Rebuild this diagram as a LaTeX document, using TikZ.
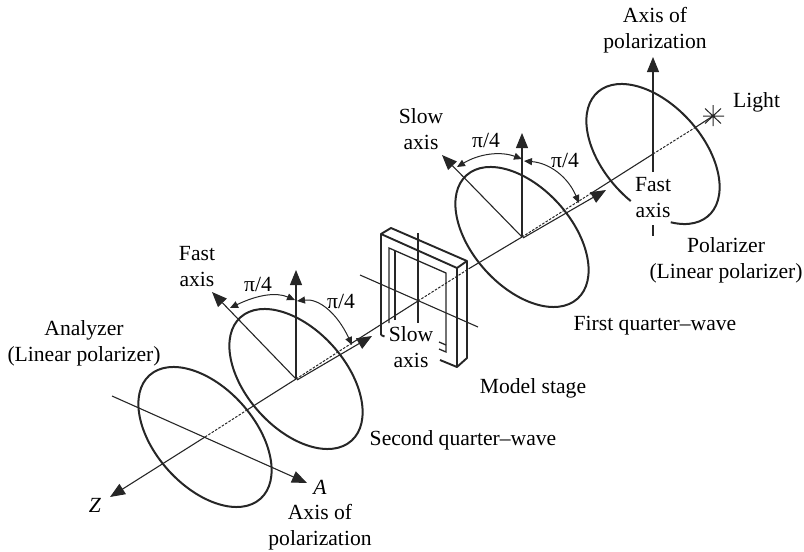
\documentclass[tikz,border=0pt]{standalone}
\usepackage{fontspec}
\setmainfont{Liberation Serif}
\usetikzlibrary{arrows.meta}
\tikzset{
  lab/.style={inner sep=0pt,align=center,anchor=base,font=\fontsize{21.6}{26}\selectfont},
  disc/.style={line width=2pt,draw=black!85},
  axisline/.style={line width=1.1pt,draw=black!85},
  dotline/.style={line width=1pt,draw=black!85,dash pattern=on 2.5pt off 1.5pt},
  bigarrow/.style={axisline,-{Triangle[length=15pt,width=12pt]}},
  angarc/.style={line width=1pt,draw=black!85,{Triangle[length=8pt,width=7pt]}-{Triangle[length=8pt,width=7pt]}},
  stagethick/.style={line width=1.9pt,draw=black!85,line join=round},
  stagethin/.style={line width=1.3pt,draw=black!85},
}
\begin{document}
\begin{tikzpicture}[x=1pt,y=-1pt]
\useasboundingbox (0,0) rectangle (804,552);
\coordinate (Ca) at (205,437);
\coordinate (Cs) at (296,379);
\coordinate (Cm) at (418,301);
\coordinate (Cf) at (522,237);
\coordinate (Cp) at (653,154);
\coordinate (Star) at (713,116);
\coordinate (Ztip) at (110,497);
% discs
\draw[disc,rotate around={-48:(Ca)}] (Ca) ellipse[x radius=83pt,y radius=49.5pt];
\draw[disc,rotate around={-48:(Cs)}] (Cs) ellipse[x radius=83pt,y radius=49.5pt];
\draw[disc,rotate around={-48:(Cf)}] (Cf) ellipse[x radius=83pt,y radius=49.5pt];
\draw[disc,shift={(Cp)},rotate=-48] (-41:83pt and 49.5pt) arc[start angle=-41,delta angle=325,x radius=83pt,y radius=49.5pt];
% stage
\draw[stagethick] (381,335) -- (381,234) -- (457,268) -- (467,261) -- (391,228) -- (381,234);
\draw[stagethick] (381,335) -- (384.5,336.5);
\draw[stagethick] (457,268) -- (457,367) -- (467,358) -- (467,261);
\draw[stagethick] (440,360) -- (457,367);
\draw[stagethin] (389,323) -- (389,248) -- (446,273) -- (446,352) -- (439,349);
\draw[stagethin] (395,320) -- (395,251);
\draw[stagethin] (439,342) -- (446,345);
\draw[axisline] (418,233) -- (418,323);
\draw[axisline] (360,275) -- (478,327);
% z axis
\draw[bigarrow] (Ca) -- (Ztip);
\draw[dotline] (Ca) -- (247,410);
\draw[axisline] (247,410) -- (Cs);
\draw[dotline] (Cs) -- (352,343);
\draw[axisline] (352,343) -- (Cm);
\draw[dotline] (Cm) -- (470,268);
\draw[axisline] (470,268) -- (Cf);
\draw[dotline] (Cf) -- (590,194);
\draw[axisline] (590,194) -- (Cp);
\draw[dotline] (Cp) -- (696,127);
\draw[axisline] (696,127) -- (Star);
% double arrows along axis
\draw[bigarrow] (297,380) -- (372,336);
\draw[bigarrow] (523,238) -- (606,190);
% vertical and fast arrows
\draw[bigarrow] (Cs) -- (296,270);
\draw[bigarrow] (Cs) -- (212,292);
\draw[bigarrow] (Cf) -- (522,133);
\draw[bigarrow] (Cf) -- (442,155);
\draw[bigarrow] (653,172) -- (653,57);
\draw[axisline] (653,225) -- (653,236);
\draw[bigarrow] (112,396) -- (307,483);
% angle arcs
\draw[angarc] (230,308) .. controls (257.7,294.7) and (276,292) .. (295,300);
\draw[angarc] (297,301) .. controls (318.7,298.3) and (336.9,312.7) .. (352,345);
\draw[angarc] (457,167) .. controls (479.3,153.7) and (500.3,151) .. (522,159);
\draw[angarc] (524,161) .. controls (549.7,163) and (568,177) .. (579,203);
% star
\draw[line width=1pt,draw=black!85] (713,105) -- (713,126) (703,116) -- (724,116) (705,108.5) -- (721,123.5) (705,123.5) -- (721,108.5);
% labels
\node[lab] (t1) at (655,48) {Axis of\\polarization};
\node[lab,anchor=base west] (t2) at (733,107) {Light};
\node[lab] (t3) at (421,149) {Slow\\axis};
\node[lab] (t4) at (486,147) {π/4};
\node[lab] (t5) at (565,167) {π/4};
\node[lab] (t6) at (653,217) {Fast\\axis};
\node[lab] (t7) at (726,278) {Polarizer\\(Linear polarizer)};
\node[lab] (t8) at (655,330) {First quarter–wave};
\node[lab] (t9) at (533,393) {Model stage};
\node[lab] (t10) at (463,445) {Second quarter–wave};
\node[lab] (t11) at (84,361) {Analyzer\\(Linear polarizer)};
\node[lab] (t12) at (197,286) {Fast\\axis};
\node[lab] (t13) at (258,291) {π/4};
\node[lab] (t14) at (341,308) {π/4};
\node[lab] (t15) at (411,367) {Slow\\axis};
\node[lab] (t16) at (320,494) {\textit{A}};
\node[lab] (t17) at (95,512) {\textit{Z}};
\node[lab] (t18) at (320,545) {Axis of\\polarization};
\end{tikzpicture}
\end{document}
